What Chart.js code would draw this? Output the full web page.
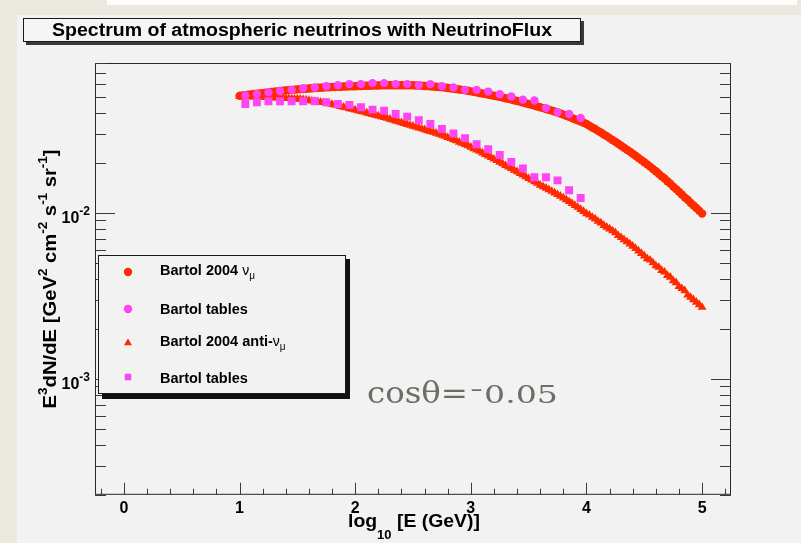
<!DOCTYPE html>
<html>
<head>
<meta charset="utf-8">
<title>Spectrum of atmospheric neutrinos with NeutrinoFlux</title>
<script src="https://cdn.jsdelivr.net/npm/chart.js@4.4.1/dist/chart.umd.min.js"></script>
<style>
  html, body { margin: 0; padding: 0; background: #f2f2f2; overflow: hidden; }
  canvas { display: block; }
</style>
</head>
<body>
<canvas id="spectrum" width="801" height="543"></canvas>
<script>
// log10(E/GeV) grid of the Bartol 2004 curves
const logE = [
  1.000, 1.025, 1.050, 1.075, 1.100, 1.125, 1.150, 1.175, 1.200, 1.225,
  1.250, 1.275, 1.300, 1.325, 1.350, 1.375, 1.400, 1.425, 1.450, 1.475,
  1.500, 1.525, 1.550, 1.575, 1.600, 1.625, 1.650, 1.675, 1.700, 1.725,
  1.750, 1.775, 1.800, 1.825, 1.850, 1.875, 1.900, 1.925, 1.950, 1.975,
  2.000, 2.025, 2.050, 2.075, 2.100, 2.125, 2.150, 2.175, 2.200, 2.225,
  2.250, 2.275, 2.300, 2.325, 2.350, 2.375, 2.400, 2.425, 2.450, 2.475,
  2.500, 2.525, 2.550, 2.575, 2.600, 2.625, 2.650, 2.675, 2.700, 2.725,
  2.750, 2.775, 2.800, 2.825, 2.850, 2.875, 2.900, 2.925, 2.950, 2.975,
  3.000, 3.025, 3.050, 3.075, 3.100, 3.125, 3.150, 3.175, 3.200, 3.225,
  3.250, 3.275, 3.300, 3.325, 3.350, 3.375, 3.400, 3.425, 3.450, 3.475,
  3.500, 3.525, 3.550, 3.575, 3.600, 3.625, 3.650, 3.675, 3.700, 3.725,
  3.750, 3.775, 3.800, 3.825, 3.850, 3.875, 3.900, 3.925, 3.950, 3.975,
  4.000, 4.025, 4.050, 4.075, 4.100, 4.125, 4.150, 4.175, 4.200, 4.225,
  4.250, 4.275, 4.300, 4.325, 4.350, 4.375, 4.400, 4.425, 4.450, 4.475,
  4.500, 4.525, 4.550, 4.575, 4.600, 4.625, 4.650, 4.675, 4.700, 4.725,
  4.750, 4.775, 4.800, 4.825, 4.850, 4.875, 4.900, 4.925, 4.950, 4.975,
  5.000
];
const numu2004 = [
  0.0507, 0.0510, 0.0512, 0.0515, 0.0517, 0.0520, 0.0522, 0.0525, 0.0527, 0.0530,
  0.0532, 0.0535, 0.0537, 0.0540, 0.0542, 0.0545, 0.0547, 0.0549, 0.0551, 0.0553,
  0.0555, 0.0557, 0.0558, 0.0560, 0.0562, 0.0564, 0.0565, 0.0567, 0.0568, 0.0570,
  0.0571, 0.0572, 0.0573, 0.0574, 0.0575, 0.0576, 0.0577, 0.0578, 0.0579, 0.0580,
  0.0580, 0.0581, 0.0582, 0.0583, 0.0583, 0.0584, 0.0585, 0.0586, 0.0586, 0.0587,
  0.0587, 0.0588, 0.0588, 0.0588, 0.0588, 0.0588, 0.0588, 0.0588, 0.0588, 0.0588,
  0.0587, 0.0586, 0.0585, 0.0584, 0.0582, 0.0581, 0.0579, 0.0577, 0.0575, 0.0573,
  0.0571, 0.0569, 0.0566, 0.0563, 0.0560, 0.0557, 0.0554, 0.0551, 0.0547, 0.0544,
  0.0540, 0.0536, 0.0532, 0.0528, 0.0524, 0.0520, 0.0516, 0.0512, 0.0508, 0.0504,
  0.0500, 0.0496, 0.0491, 0.0487, 0.0482, 0.0477, 0.0472, 0.0468, 0.0463, 0.0458,
  0.0453, 0.0448, 0.0443, 0.0438, 0.0433, 0.0428, 0.0423, 0.0418, 0.0413, 0.0408,
  0.0403, 0.0397, 0.0391, 0.0385, 0.0379, 0.0373, 0.0367, 0.0361, 0.0355, 0.0349,
  0.0343, 0.0335, 0.0327, 0.0320, 0.0312, 0.0305, 0.0297, 0.0290, 0.0282, 0.0275,
  0.0268, 0.0261, 0.0254, 0.0247, 0.0240, 0.0234, 0.0227, 0.0221, 0.0214, 0.0208,
  0.0202, 0.0196, 0.0190, 0.0184, 0.0178, 0.0172, 0.0166, 0.0161, 0.0155, 0.0150,
  0.0144, 0.0139, 0.0134, 0.0129, 0.0124, 0.0120, 0.0115, 0.0111, 0.0107, 0.0103,
  0.0099
];
const antinumu2004 = [
  0.0503, 0.0503, 0.0502, 0.0502, 0.0501, 0.0500, 0.0499, 0.0499, 0.0498, 0.0497,
  0.0496, 0.0495, 0.0494, 0.0493, 0.0492, 0.0491, 0.0490, 0.0489, 0.0488, 0.0487,
  0.0486, 0.0484, 0.0481, 0.0479, 0.0476, 0.0473, 0.0470, 0.0468, 0.0465, 0.0462,
  0.0459, 0.0455, 0.0451, 0.0447, 0.0442, 0.0438, 0.0434, 0.0430, 0.0425, 0.0421,
  0.0417, 0.0413, 0.0409, 0.0405, 0.0400, 0.0396, 0.0392, 0.0388, 0.0384, 0.0380,
  0.0376, 0.0372, 0.0367, 0.0363, 0.0358, 0.0354, 0.0350, 0.0346, 0.0341, 0.0337,
  0.0333, 0.0329, 0.0325, 0.0321, 0.0317, 0.0313, 0.0309, 0.0306, 0.0302, 0.0298,
  0.0294, 0.0290, 0.0285, 0.0281, 0.0276, 0.0272, 0.0267, 0.0263, 0.0258, 0.0254,
  0.0249, 0.0244, 0.0239, 0.0235, 0.0230, 0.0225, 0.0220, 0.0216, 0.0211, 0.0207,
  0.0202, 0.0198, 0.0193, 0.0189, 0.0185, 0.0181, 0.0177, 0.0173, 0.0169, 0.0165,
  0.0161, 0.0158, 0.0154, 0.0151, 0.0147, 0.0144, 0.0141, 0.0138, 0.0135, 0.0132,
  0.0129, 0.0126, 0.0123, 0.0120, 0.0117, 0.0114, 0.0111, 0.0108, 0.0105, 0.0102,
  0.0099, 0.0097, 0.0094, 0.0092, 0.0089, 0.0087, 0.0084, 0.0082, 0.0080, 0.0078,
  0.0076, 0.0073, 0.0071, 0.0069, 0.0067, 0.0065, 0.0063, 0.0061, 0.0059, 0.0057,
  0.0055, 0.0053, 0.0052, 0.0050, 0.0048, 0.0047, 0.0045, 0.0044, 0.0042, 0.0041,
  0.0039, 0.0038, 0.0036, 0.0035, 0.0034, 0.0032, 0.0031, 0.0030, 0.0029, 0.0028,
  0.0027
];

// Bartol tables (bin centres)
const logETables = [
  1.05, 1.15, 1.25, 1.35, 1.45, 1.55, 1.65, 1.75, 1.85, 1.95,
  2.05, 2.15, 2.25, 2.35, 2.45, 2.55, 2.65, 2.75, 2.85, 2.95,
  3.05, 3.15, 3.25, 3.35, 3.45, 3.55, 3.65, 3.75, 3.85, 3.95
];
const numuTables = [
  0.0510, 0.0521, 0.0532, 0.0543, 0.0551, 0.0564, 0.0569, 0.0580, 0.0588, 0.0597,
  0.0597, 0.0605, 0.0605, 0.0597, 0.0597, 0.0588, 0.0597, 0.0580, 0.0569, 0.0551,
  0.0551, 0.0538, 0.0519, 0.0503, 0.0481, 0.0475, 0.0428, 0.0404, 0.0394, 0.0373
];
const antinumuTables = [
  0.0453, 0.0464, 0.0471, 0.0471, 0.0471, 0.0471, 0.0471, 0.0464, 0.0453, 0.0447,
  0.0433, 0.0419, 0.0413, 0.0394, 0.0380, 0.0362, 0.0343, 0.0320, 0.0301, 0.0282,
  0.0259, 0.0242, 0.0223, 0.0203, 0.0185, 0.0164, 0.0164, 0.0157, 0.0137, 0.0123
];

const xTicks = [0, 1, 2, 3, 4, 5];
const yTicks = [1e-3, 1e-2];
const yTickExp = ['-3', '-2'];

const RED = '#ff2a00';
const MAGENTA = '#ff44f4';
const SANS = '"Liberation Sans", Arial, sans-serif';

const pts = (xs, ys) => xs.map((x, i) => ({ x, y: ys[i] }));

// draw a run of text pieces (sup/sub), optionally squeezed to a target width
function richWidth(ctx, parts) {
  let w = 0;
  parts.forEach(p => { ctx.font = p.font; w += ctx.measureText(p.t).width; });
  return w;
}
function drawRich(ctx, parts, x, y, targetW) {
  const w = richWidth(ctx, parts);
  const sx = targetW ? targetW / w : 1;
  ctx.save();
  ctx.translate(x, y);
  ctx.scale(sx, 1);
  let cx = 0;
  parts.forEach(p => {
    ctx.font = p.font;
    ctx.fillText(p.t, cx, p.dy || 0);
    cx += ctx.measureText(p.t).width;
  });
  ctx.restore();
  return w * sx;
}

const legendEntries = [
  { ds: 0, y: 272, base: 275, text: 'Bartol 2004 ', nu: true },
  { ds: 1, y: 309, base: 313.5, text: 'Bartol tables', nu: false },
  { ds: 2, y: 343, base: 346, text: 'Bartol 2004 anti-', nu: true },
  { ds: 3, y: 377, base: 383, text: 'Bartol tables', nu: false },
];

const rootPad = {
  id: 'rootPad',
  beforeDraw(chart) {
    const ctx = chart.ctx;
    ctx.save();
    // slide background + ROOT canvas
    ctx.fillStyle = '#ebe8df';
    ctx.fillRect(0, 0, 801, 543);
    ctx.fillStyle = '#fdfdfb';
    ctx.fillRect(107, 0, 690, 5);
    ctx.fillStyle = '#f2f2f2';
    ctx.fillRect(17, 15, 784, 528);

    // title box with shadow
    ctx.fillStyle = '#3a3a3a';
    ctx.fillRect(26, 21, 558, 24);
    ctx.fillStyle = '#f5f5f5';
    ctx.fillRect(23, 18, 558, 24);
    ctx.strokeStyle = '#1a1a1a';
    ctx.lineWidth = 1;
    ctx.strokeRect(23.5, 18.5, 557, 23);
    ctx.fillStyle = '#000';
    ctx.textBaseline = 'alphabetic';
    drawRich(ctx, [{ t: 'Spectrum of atmospheric neutrinos with NeutrinoFlux', font: `bold 18px ${SANS}` }], 52, 36, 500);
    ctx.restore();
  },
  afterDatasetsDraw(chart) {
    const ctx = chart.ctx;
    const { left, right, top, bottom } = chart.chartArea;
    const xs = chart.scales.x, ys = chart.scales.y;
    ctx.save();

    // frame
    ctx.strokeStyle = '#2a2a2a';
    ctx.lineWidth = 1;
    ctx.strokeRect(left + 0.5, top + 0.5, right - left - 1, bottom - top - 1);

    // x ticks (inside, bottom)
    ctx.strokeStyle = '#3a3a3a';
    ctx.beginPath();
    for (let k = -1; k <= 26; k++) {
      const v = k * 0.2;
      if (v < xs.min || v > xs.max) continue;
      const px = Math.round(xs.getPixelForValue(v)) + 0.5;
      const len = (k % 5 === 0) ? 12 : 6;
      ctx.moveTo(px, bottom);
      ctx.lineTo(px, bottom - len);
    }
    // y ticks (inside, left and right)
    for (let e = -4; e <= -1; e++) {
      for (let m = 1; m <= 9; m++) {
        const v = m * Math.pow(10, e);
        if (v < ys.min || v > ys.max) continue;
        const py = Math.round(ys.getPixelForValue(v)) + 0.5;
        const len = m === 1 ? 20 : 11;
        ctx.moveTo(left, py); ctx.lineTo(left + len, py);
        ctx.moveTo(right, py); ctx.lineTo(right - len, py);
      }
    }
    ctx.stroke();

    // y tick labels 10^-n
    ctx.fillStyle = '#000';
    ctx.textBaseline = 'alphabetic';
    yTicks.forEach((v, i) => {
      const py = ys.getPixelForValue(v);
      const parts = [
        { t: '10', font: `bold 16px ${SANS}`, dy: 0 },
        { t: yTickExp[i], font: `bold 12px ${SANS}`, dy: -8 },
      ];
      const w = richWidth(ctx, parts);
      drawRich(ctx, parts, 90 - w, py + 10);
    });

    // axis titles
    const big = `bold 18px ${SANS}`, small = `bold 12px ${SANS}`;
    drawRich(ctx, [
      { t: 'log', font: big },
      { t: '10', font: small, dy: 12 },
      { t: ' [E (GeV)]', font: big },
    ], 348, 527, 132);

    ctx.save();
    ctx.translate(56, (top + bottom) / 2);
    ctx.rotate(-Math.PI / 2);
    const yParts = [
      { t: 'E', font: big }, { t: '3', font: small, dy: -9 },
      { t: 'dN/dE [GeV', font: big }, { t: '2', font: small, dy: -9 },
      { t: ' cm', font: big }, { t: '-2', font: small, dy: -9 },
      { t: ' s', font: big }, { t: '-1', font: small, dy: -9 },
      { t: ' sr', font: big }, { t: '-1', font: small, dy: -9 },
      { t: ']', font: big },
    ];
    drawRich(ctx, yParts, -129.5, 0, 259);
    ctx.restore();

    // legend box
    ctx.fillStyle = '#111';
    ctx.fillRect(102, 259, 248, 140);
    ctx.fillStyle = '#f2f2f2';
    ctx.fillRect(98, 255, 248, 139);
    ctx.strokeStyle = '#1a1a1a';
    ctx.strokeRect(98.5, 255.5, 247, 138);
    legendEntries.forEach(en => {
      const ds = chart.data.datasets[en.ds];
      ctx.fillStyle = ds.backgroundColor;
      Chart.helpers.drawPoint(ctx, {
        pointStyle: ds.pointStyle, radius: Math.min(ds.pointRadius, 4.6), rotation: 0, borderWidth: 0
      }, 128, en.y);
      ctx.fillStyle = '#000';
      const parts = [{ t: en.text, font: `bold 14.5px ${SANS}` }];
      if (en.nu) {
        parts.push({ t: 'ν', font: `14px ${SANS}` });
        parts.push({ t: 'μ', font: `10px ${SANS}`, dy: 4 });
      }
      drawRich(ctx, parts, 160, en.base);
    });

    // cos(theta) annotation
    ctx.fillStyle = '#6d6c65';
    drawRich(ctx, [{ t: 'cosθ=', font: '29px "DejaVu Serif", serif' }], 367, 403, 101);
    drawRich(ctx, [{ t: '-', font: '22px "DejaVu Serif", serif' }], 470, 396, 13);
    drawRich(ctx, [{ t: '0.05', font: '24px "DejaVu Serif", serif' }], 484, 403, 74);

    ctx.restore();
  }
};

new Chart(document.getElementById('spectrum'), {
  type: 'scatter',
  data: {
    datasets: [
      {
        label: 'Bartol 2004 νμ',
        data: pts(logE, numu2004),
        pointStyle: 'circle', pointRadius: 4.2,
        backgroundColor: RED, borderColor: RED, borderWidth: 0,
        order: 3,
      },
      {
        label: 'Bartol tables',
        data: pts(logETables, numuTables),
        pointStyle: 'circle', pointRadius: 4.2,
        backgroundColor: MAGENTA, borderColor: MAGENTA, borderWidth: 0,
        order: 1,
      },
      {
        label: 'Bartol 2004 anti-νμ',
        data: pts(logE, antinumu2004),
        pointStyle: 'triangle', pointRadius: 5.1,
        backgroundColor: RED, borderColor: RED, borderWidth: 0,
        order: 2,
      },
      {
        label: 'Bartol tables',
        data: pts(logETables, antinumuTables),
        pointStyle: 'rect', pointRadius: 5.6,
        backgroundColor: MAGENTA, borderColor: MAGENTA, borderWidth: 0,
        order: 0,
      },
    ]
  },
  options: {
    responsive: false,
    devicePixelRatio: 1,
    animation: false,
    events: [],
    layout: { padding: { left: 95, top: 63, right: 70, bottom: 21 } },
    plugins: {
      legend: { display: false },
      tooltip: { enabled: false },
      title: { display: false },
    },
    scales: {
      x: {
        type: 'linear',
        min: -0.25,
        max: 5.25,
        afterBuildTicks: s => { s.ticks = xTicks.map(v => ({ value: v })); },
        grid: { display: false, drawTicks: false },
        border: { display: false },
        ticks: {
          padding: 4,
          color: '#000',
          maxRotation: 0,
          autoSkip: false,
          font: { family: SANS, weight: 'bold', size: 16 },
        },
      },
      y: {
        type: 'logarithmic',
        min: 2e-4,
        max: 0.08,
        display: false,
      }
    }
  },
  plugins: [rootPad]
});
</script>
</body>
</html>
